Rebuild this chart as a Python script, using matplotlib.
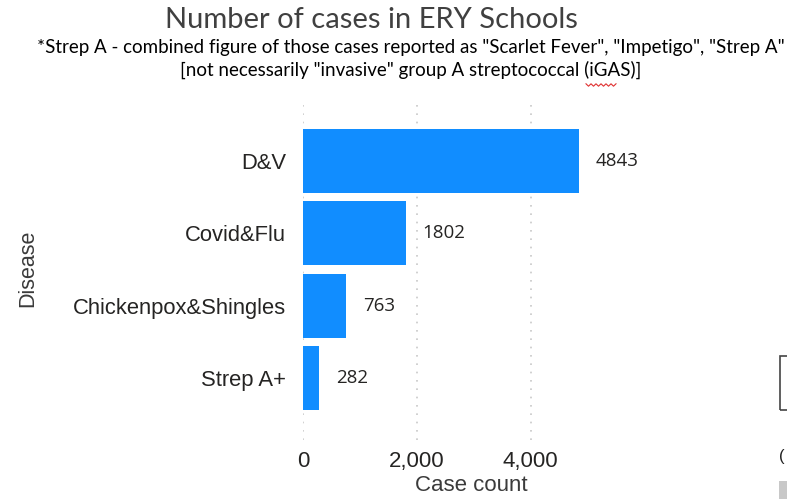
import matplotlib
matplotlib.use("Agg")
import matplotlib.pyplot as plt
from matplotlib.patches import Rectangle
from matplotlib.ticker import FuncFormatter

# Case counts by disease group
diseases = ["D&V", "Covid&Flu", "Chickenpox&Shingles", "Strep A+"]
case_counts = [4843, 1802, 763, 282]
x_ticks = [0, 2000, 4000]

title = "Number of cases in ERY Schools"
subtitle_1 = '*Strep A - combined figure of those cases reported as "Scarlet Fever", "Impetigo", "Strep A"'
subtitle_2 = '[not necessarily "invasive" group A streptococcal (iGAS)]'

W, H = 787, 499
fig = plt.figure(figsize=(W / 100, H / 100), dpi=100)
fig.patch.set_facecolor("white")

BAR = "#118DFF"
DARK = "#252423"
GREY = "#3b3b3b"
SANS = "Liberation Sans"

ax = fig.add_axes([303 / W, (H - 440) / H, 336 / W, (440 - 104) / H])
ypos = list(range(len(diseases)))
ax.barh(ypos, case_counts, height=0.886, color=BAR, zorder=2)

ax.set_xlim(0, 5900)
ax.set_ylim(3.86, -0.79)
ax.set_yticks(ypos)
ax.set_yticklabels(diseases, fontsize=15.8, color=DARK, family=SANS)
ax.set_xticks(x_ticks)
ax.xaxis.set_major_formatter(FuncFormatter(lambda v, p: f"{int(v):,}"))
for lab in ax.get_xticklabels():
    lab.set_fontsize(16)
    lab.set_color(DARK)
    lab.set_family(SANS)
ax.tick_params(axis="both", length=0)
ax.tick_params(axis="y", pad=12)
ax.tick_params(axis="x", pad=8)

for s in ax.spines.values():
    s.set_visible(False)
ax.grid(axis="x", color="#c8c8c8", linestyle=(0, (1, 4)), linewidth=1.2, zorder=0)
ax.set_axisbelow(True)

ax.set_xlabel("Case count", fontsize=16, color=GREY, family=SANS, labelpad=2)
ax.set_ylabel("Disease", fontsize=15.5, color=GREY, family=SANS)
ax.yaxis.set_label_coords((38 - 303) / 336, 0.51)

for y, v in zip(ypos, case_counts):
    ax.annotate(str(v), xy=(v, y), xytext=(12, 0), textcoords="offset points",
                ha="left", va="center", fontsize=13.5, color=DARK, family="Open Sans")

# Header
fig.text(371 / W, 1 - 20 / H, title, ha="center", va="center",
         fontsize=21, color="#404040", family="Lato")
fig.text(411 / W, 1 - 48 / H, subtitle_1, ha="center", va="center",
         fontsize=13.5, color="black", family="Lato")
fig.text(411 / W, 1 - 70 / H, subtitle_2, ha="center", va="center",
         fontsize=13.5, color="black", family="Lato")

# spell-check squiggle under "iGAS"
xs, ys = [], []
x0, x1 = 586, 616
n = 12
for i in range(n + 1):
    xs.append((x0 + (x1 - x0) * i / n) / W)
    ys.append(1 - (85 + (1.2 if i % 2 else -1.2)) / H)
fig.add_artist(plt.Line2D(xs, ys, color="#e03030", linewidth=0.8))

# partially visible panel at the right edge
fig.add_artist(Rectangle((780 / W, 1 - 410 / H), 20 / W, 54 / H, fill=False,
                         edgecolor="#444444", linewidth=1.2, transform=fig.transFigure))
fig.text(779 / W, 1 - 456 / H, "(", fontsize=12, color="#222222", va="center",
         family=SANS)
fig.add_artist(Rectangle((779 / W, 0), 10 / W, 18 / H, facecolor="#c8c8c8",
                         edgecolor="none", transform=fig.transFigure))

fig.savefig("out.png", dpi=100, facecolor="white")
